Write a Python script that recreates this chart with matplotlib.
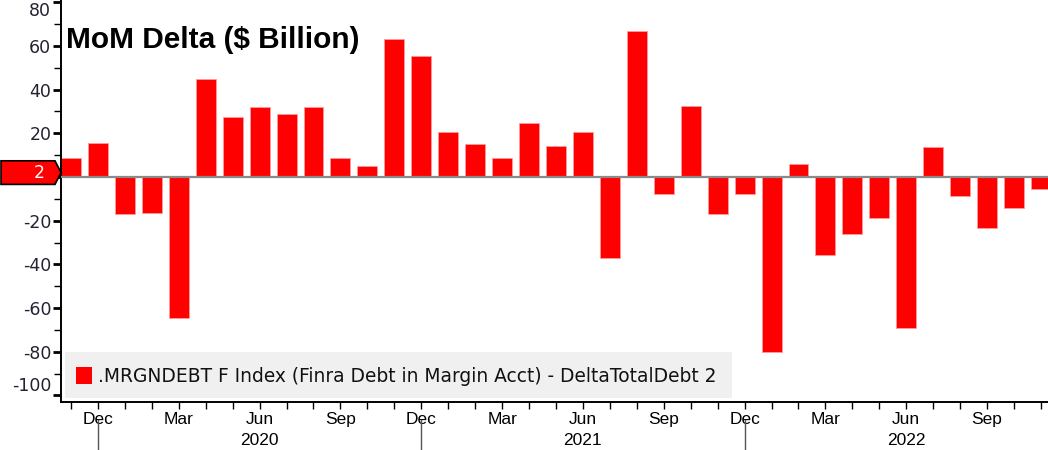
import numpy as np
import pandas as pd
import matplotlib
matplotlib.use("Agg")
import matplotlib.pyplot as plt
from matplotlib.patches import Polygon, Rectangle

plt.rcParams["axes.unicode_minus"] = False

# monthly change in FINRA margin debt, Nov 2019 .. Nov 2022 ($ bn)
months = pd.period_range("2019-11", "2022-11", freq="M")
delta = [8.7, 15.6, -17, -16.5, -64.7, 45, 27.5, 32, 29, 32, 8.7, 5,
         63, 55.5, 20.6, 15, 8.7, 24.8, 14.2, 20.6, -37, 67, -8, 32.5,
         -17, -8, -80, 6, -35.5, -26, -19, -69, 13.6, -8.7, -23.5, -14.3, -5.6]
yticks = [-100, -80, -60, -40, -20, 0, 20, 40, 60, 80]
last_value_label = "2"
title = "MoM Delta ($ Billion)"
legend_label = ".MRGNDEBT F Index (Finra Debt in Margin Acct) - DeltaTotalDebt 2"

narrow = ["Liberation Sans", "DejaVu Sans"]
red = "#ff0000"

fig = plt.figure(figsize=(10.48, 4.5), dpi=100)
ax = fig.add_axes([61 / 1048, 48 / 450, 987 / 1048, 402 / 450])

x = np.arange(len(delta))
ax.bar(x, delta, width=0.74, color=red, edgecolor="#ff9a9a", linewidth=0.6, zorder=2)
ax.axhline(0, color="#8a8a8a", lw=1.6, zorder=3)

ax.set_xlim(-0.37, len(delta) - 1 + 0.26)
ax.set_ylim(-103, 81)

for s in ["top", "right"]:
    ax.spines[s].set_visible(False)
ax.spines["left"].set_linewidth(1.4)
ax.spines["bottom"].set_linewidth(1.4)

# y axis (0 label hidden behind the last-value marker)
ax.set_yticks(yticks)
ax.set_yticklabels(["" if v == 0 else str(v) for v in yticks])
ax.set_yticks(np.arange(-100, 81, 10), minor=True)
ax.tick_params(axis="y", which="major", length=6, width=2, direction="out",
               labelsize=12.5, labelcolor="#222233", pad=1)
ax.tick_params(axis="y", which="minor", length=5, width=1, direction="out")
for lab, v in zip(ax.get_yticklabels(), yticks):
    if v == 80:
        lab.set_va("top")
    if v == -100:
        lab.set_va("bottom")

# x axis: tick per month, labels on quarters
ax.set_xticks(x)
ax.tick_params(axis="x", which="major", length=5, width=1, direction="out",
               labelsize=12.5, pad=2)
xlabels = [m.strftime("%b") if m.month in (3, 6, 9, 12) else "" for m in months]
ax.set_xticklabels(xlabels, family=narrow)

# year separators and year labels
for i, m in enumerate(months):
    if m.month == 12:
        ax.plot([i, i], [-0.045, -0.12], transform=ax.get_xaxis_transform(),
                color="#555555", lw=1, clip_on=False)
    if m.month == 6:
        ax.text(i, -0.097, str(m.year), transform=ax.get_xaxis_transform(),
                ha="center", va="center", fontsize=12.5, family=narrow)

# title
ax.text(66 / 1048, 410 / 450, title, transform=fig.transFigure, fontsize=21.5,
        fontweight="bold", family=narrow, va="center", ha="left")

# legend box
fig.patches.append(Rectangle((65 / 1048, 52 / 450), 667 / 1048, 46 / 450,
                             transform=fig.transFigure, facecolor="#f0f0f0",
                             edgecolor="none", zorder=1))
fig.patches.append(Rectangle((76 / 1048, 66 / 450), 16 / 1048, 17 / 450,
                             transform=fig.transFigure, facecolor=red,
                             edgecolor="none", zorder=2))
fig.text(98 / 1048, 74 / 450, legend_label, fontsize=13.4, va="center",
         ha="left", color="#111111")

# last value marker on the y axis
tr = ax.get_yaxis_transform()
y0 = 2
h = 5.4
pts = [(-60 / 987, y0 - h), (-6 / 987, y0 - h), (0, y0), (-6 / 987, y0 + h), (-60 / 987, y0 + h)]
ax.add_patch(Polygon(pts, closed=True, transform=tr, facecolor=red,
                     edgecolor="black", lw=1.2, clip_on=False, zorder=5))
ax.text(-16 / 987, y0, last_value_label, transform=tr, ha="right", va="center",
        color="white", fontsize=12.5, zorder=6)

fig.savefig("out.png", dpi=100)
